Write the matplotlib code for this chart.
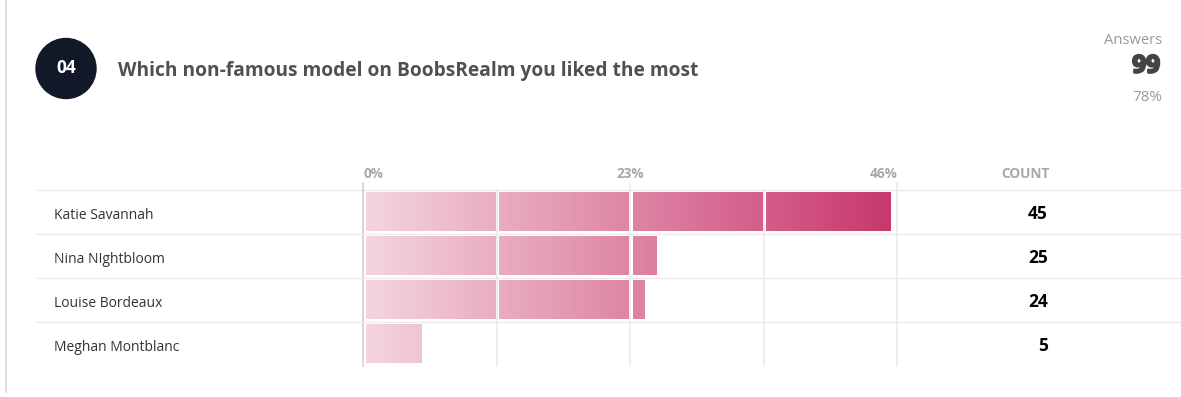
import matplotlib.pyplot as plt
import matplotlib.patheffects as pe
import numpy as np
from matplotlib.colors import LinearSegmentedColormap, Normalize
from matplotlib.patches import Ellipse
from matplotlib.lines import Line2D

# data
question_no = '04'
question = 'Which non-famous model on BoobsRealm you liked the most'
names = ['Katie Savannah', 'Nina NIghtbloom', 'Louise Bordeaux', 'Meghan Montblanc']
counts = [45, 25, 24, 5]
total_answers = 99
answer_rate = '78%'
tick_values = [0, 23, 46]
tick_labels = ['0%', '23%', '46%']

percents = [c / total_answers * 100 for c in counts]

W, H = 1181, 397
plt.rcParams['font.family'] = ['Open Sans', 'DejaVu Sans']

fig = plt.figure(figsize=(W / 100, H / 100), dpi=100)
fig.patch.set_facecolor('white')

def fx(px):
    return px / W

def fy(py):
    return 1 - py / H

# card left edge
fig.add_artist(Line2D([fx(5.5), fx(5.5)], [fy(0), fy(392)], color='#d6d6d6', lw=1.2))

# header
fig.add_artist(Ellipse((fx(66), fy(68.5)), 60 / W, 60 / H, transform=fig.transFigure,
                       color='#111827'))
fig.text(fx(66.5), fy(73), question_no, color='white', fontsize=12.5, fontweight='bold',
         ha='center', va='baseline')
fig.text(fx(118), fy(76), question, color='#505050', fontsize=13.8, fontweight='bold',
         ha='left', va='baseline')
fig.text(fx(1162), fy(44.5), 'Answers', color='#9a9a9a', fontsize=10.6, ha='right',
         va='baseline')
fig.text(fx(1160), fy(72.5), str(total_answers), color='#444444', fontsize=17.5,
         fontweight='bold', ha='right', va='baseline',
         path_effects=[pe.withStroke(linewidth=1.6, foreground='#444444')])
fig.text(fx(1162), fy(101), answer_rate, color='#9a9a9a', fontsize=11, ha='right',
         va='baseline')

# bar area: 0% at x=363, 46% at x=897, rows from y=190 to y=366
x0_px, x1_px = 363, 897
top_px, bot_px = 190, 366
ax = fig.add_axes([fx(x0_px), fy(bot_px), (x1_px - x0_px) / W, (bot_px - top_px) / H])
ax.set_axis_off()
xmax = tick_values[-1]
pp = xmax / (x1_px - x0_px)  # percent per pixel
n = len(names)

cmap = LinearSegmentedColormap.from_list('pink', ['#f4d5e0', '#c8366c'])
norm = Normalize(0, xmax)

# row separators (extend out of the axes)
for i in range(n):
    ypx = top_px + i * 44
    fig.add_artist(Line2D([fx(36), fx(W)], [fy(ypx), fy(ypx)], color='#ebebeb', lw=1))

# vertical grid
quarter = xmax / 4
for k in range(5):
    xv = k * quarter
    col = '#cccccc' if k == 0 else '#e8e8e8'
    ax.plot([xv, xv], [-0.5, n - 0.5], color=col, lw=1.1, clip_on=False, zorder=1)

# bars as gradient segments split by the quarter lines
bh = 39 / 44
for i, p in enumerate(percents):
    for k in range(4):
        s = k * quarter + 2.7 * pp
        e = min(p, (k + 1) * quarter - 1.5 * pp)
        if e <= s:
            break
        grad = np.linspace(s, e, 64)[np.newaxis, :]
        ax.imshow(grad, extent=[s, e, i + bh / 2, i - bh / 2], cmap=cmap, norm=norm,
                  aspect='auto', interpolation='bilinear', zorder=2)
    base = top_px + 22 + 7.3 + i * 44
    fig.text(fx(54), fy(base), names[i], color='#333333', fontsize=10,
             ha='left', va='baseline')
    fig.text(fx(1048), fy(base), str(counts[i]), color='black', fontsize=12.5,
             fontweight='bold', ha='right', va='baseline')

ax.set_xlim(0, xmax)
ax.set_ylim(n - 0.5, -0.5)

# tick labels
aligns = ['left', 'center', 'right']
for v, lab, al in zip(tick_values, tick_labels, aligns):
    fig.text(fx(x0_px + v / pp + (1 if al == 'left' else 0)), fy(178), lab, color='#a8a8a8',
             fontsize=9.8, fontweight='bold', ha=al, va='baseline')
fig.text(fx(1050), fy(177.5), 'COUNT', color='#a8a8a8', fontsize=9.8, fontweight='bold',
         ha='right', va='baseline')

# tick stubs above the top row line
for v in tick_values:
    xp = x0_px + v / pp
    fig.add_artist(Line2D([fx(xp), fx(xp)], [fy(183), fy(top_px)],
                          color='#cccccc' if v == 0 else '#e8e8e8', lw=1.1))

fig.savefig('out.png', dpi=100, facecolor='white')
